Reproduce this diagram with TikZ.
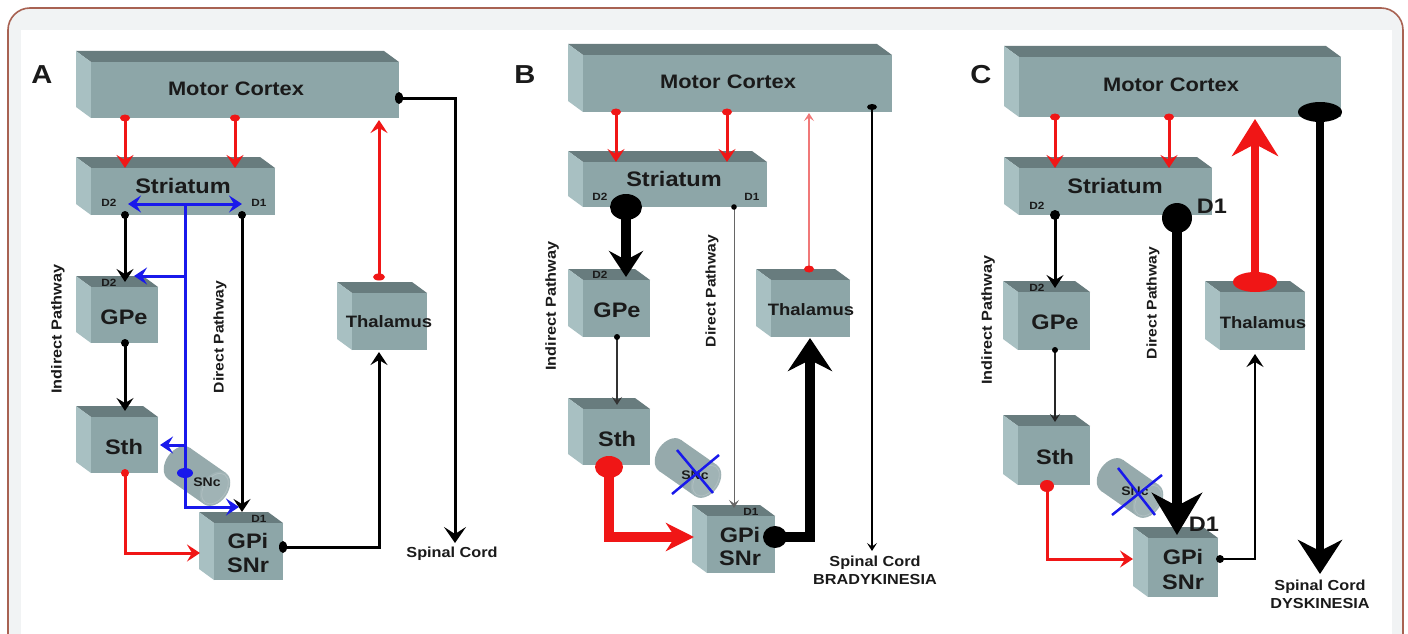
\documentclass[tikz,border=0pt]{standalone}
\usepackage{fontspec}
\newfontfamily\wf{Liberation Sans}[FakeStretch=1.12]
\usetikzlibrary{arrows.meta,calc}
\definecolor{frontc}{RGB}{141,166,168}
\definecolor{topc}{RGB}{104,124,126}
\definecolor{leftc}{RGB}{168,192,194}
\definecolor{bordc}{RGB}{168,98,82}
\definecolor{pagec}{RGB}{241,243,244}
\definecolor{redc}{RGB}{240,22,22}
\definecolor{lredc}{RGB}{240,120,120}
\definecolor{bluec}{RGB}{25,25,235}
\definecolor{txtc}{RGB}{26,26,26}
\definecolor{cylc}{RGB}{150,170,172}
\definecolor{cylend}{RGB}{160,179,181}
\newcommand{\cubebox}[5]{%
  \fill[topc] (#2,#3) -- (#4,#3) -- (#4-15,#3-11) -- (#2-15,#3-11) -- cycle;
  \fill[leftc] (#2,#3) -- (#2,#5) -- (#2-15,#5-11) -- (#2-15,#3-11) -- cycle;
  \fill[frontc] (#2,#3) rectangle (#4,#5);
  \node[inner sep=0pt, minimum width={(#4-#2)*1pt}, minimum height={(#5-#3)*1pt}] (#1) at ({(#2+#4)/2},{(#3+#5)/2}) {};
}
\newcommand{\sncbody}[1]{%
  \begin{scope}[shift={(#1)}, rotate=-35]
    \fill[cylc] (-22,0) ellipse [x radius=13pt, y radius=19pt];
    \fill[cylc] (-22,-19) rectangle (22,19);
    \fill[cylend] (22,0) ellipse [x radius=13pt, y radius=19pt];
    \draw[white!25!cylc, line width=0.8pt] (22,0) ellipse [x radius=11pt, y radius=17pt];
  \end{scope}
}
\begin{document}
\begin{tikzpicture}[x=1pt,y=-1pt,
  lbl/.style={font=\wf\bfseries\fontsize{#1}{#1}\selectfont, inner sep=0pt, text=txtc},
  tipS/.style={-{Stealth[length=13pt,width=17pt,inset=5pt]}},
  tipT/.style={-{Stealth[length=8pt,width=10pt,inset=3.5pt]}},
  redS/.style={draw=redc, line width=3pt, tipS},
  blkS/.style={draw=black, line width=3pt, tipS},
  bluS/.style={draw=bluec, line width=3pt, tipS},
  xline/.style={draw=bluec, line width=2.5pt},
]
\useasboundingbox (0,0) rectangle (1408,634);
\clip (0,0) rectangle (1408,634);
\fill[white] (0,0) rectangle (1408,634);
\draw[bordc, line width=1.6pt, fill=pagec, rounded corners=22pt] (8,680) -- (8,8) -- (1403,8) -- (1403,680);
\fill[white] (21,30) rectangle (1392,680);

%================ PANEL A =================
\node[lbl=26] (labA) at (42,75) {A};
\cubebox{mcA}{91}{62}{399}{118}
\cubebox{stA}{91}{168}{275}{215}
\cubebox{gpeA}{91}{287}{158}{343}
\cubebox{sthA}{91}{417}{158}{473}
\cubebox{gpiA}{214}{523}{283}{580}
\cubebox{thA}{352}{293}{427}{350}
\sncbody{197,476}
\node[lbl=19.5] (tmcA) at (236,89) {Motor Cortex};
\node[lbl=21] (tstA) at (183,186) {Striatum};
\node[lbl=10.5] (d2A) at (109,203) {D2};
\node[lbl=10.5] (d1A) at (259,203) {D1};
\node[lbl=21] (tgpeA) at (124,317) {GPe};
\node[lbl=10.5] (d2gA) at (109,283) {D2};
\node[lbl=21] (tsthA) at (124,447) {Sth};
\node[lbl=21] (tgpiA) at (248,541) {GPi};
\node[lbl=21] (tsnrA) at (248,565) {SNr};
\node[lbl=10.5] (d1gA) at (259,519) {D1};
\node[lbl=16.5] (tthA) at (389,322) {Thalamus};
\node[lbl=12.5] (sncA) at (207,482) {SNc};
\node[lbl=14.5] (spA) at (452,554) {Spinal Cord};
\node[lbl=14.5, rotate=90] (indA) at (58,329) {Indirect Pathway};
\node[lbl=14, rotate=90] (dirA) at (220,337) {Direct Pathway};

\coordinate (a1s) at (125,118); \coordinate (a1e) at (125,168);
\coordinate (a2s) at (235,118); \coordinate (a2e) at (235,168);
\coordinate (aThs) at (379,277); \coordinate (aThe) at (379,120);
\coordinate (aD2s) at (125,215); \coordinate (aD2e) at (125,282);
\coordinate (aD1s) at (242,215); \coordinate (aD1e) at (242,512);
\coordinate (aGs) at (125,343); \coordinate (aGe) at (125,411);
\coordinate (aSs) at (125,473); \coordinate (aSm) at (125,553); \coordinate (aSe) at (200,553);
\coordinate (aPs) at (283,547); \coordinate (aPm) at (379,547); \coordinate (aPe) at (379,352);
\coordinate (aMs) at (399,98); \coordinate (aMm) at (455,98); \coordinate (aMe) at (455,543);
\coordinate (aN) at (185,473); \coordinate (aBt) at (185,204);
\coordinate (aBl) at (128,204); \coordinate (aBr) at (242,204);
\coordinate (aBg) at (185,276); \coordinate (aBge) at (134,276);
\coordinate (aBh) at (185,445); \coordinate (aBhe) at (160,445);
\coordinate (aBd) at (185,507); \coordinate (aBde) at (239,507);

\draw[redS] (a1s) -- (a1e);
\draw[redS] (a2s) -- (a2e);
\draw[redS] (aThs) -- (aThe);
\draw[blkS] (aD2s) -- (aD2e);
\draw[blkS] (aD1s) -- (aD1e);
\draw[blkS] (aGs) -- (aGe);
\draw[redS] (aSs) -- (aSm) -- (aSe);
\draw[blkS] (aPs) -- (aPm) -- (aPe);
\draw[draw=black, line width=3pt, -{Stealth[length=16pt,width=22pt,inset=7pt]}] (aMs) -- (aMm) -- (aMe);
\draw[draw=bluec, line width=3pt] (aN) -- (aBt);
\draw[bluec, line width=3pt, {Stealth[length=13pt,width=17pt,inset=5pt]}-{Stealth[length=13pt,width=17pt,inset=5pt]}] (aBl) -- (aBr);
\draw[bluS] (aBg) -- (aBge);
\draw[bluS] (aBh) -- (aBhe);
\draw[bluS] (aN) -- (aBd) -- (aBde);
\fill[redc] (a1s) ellipse [x radius=5pt, y radius=3.5pt];
\fill[redc] (a2s) ellipse [x radius=5pt, y radius=3.5pt];
\fill[redc] (aThs) ellipse [x radius=6pt, y radius=3.5pt];
\fill[black] (aD2s) circle [radius=4pt];
\fill[black] (aD1s) circle [radius=4pt];
\fill[black] (aGs) circle [radius=4pt];
\fill[redc] (aSs) circle [radius=4pt];
\fill[black] (aPs) ellipse [x radius=4pt, y radius=6pt];
\fill[black] (aMs) ellipse [x radius=4pt, y radius=6pt];
\fill[bluec] (aN) ellipse [x radius=8pt, y radius=5pt];

%================ PANEL B =================
\node[lbl=26] (labB) at (525,75) {B};
\cubebox{mcB}{583}{55}{892}{112}
\cubebox{stB}{583}{162}{767}{207}
\cubebox{gpeB}{583}{280}{650}{337}
\cubebox{sthB}{583}{409}{650}{465}
\cubebox{gpiB}{707}{516}{775}{573}
\cubebox{thB}{771}{280}{850}{337}
\sncbody{688,468}
\node[lbl=19.5] (tmcB) at (728,82) {Motor Cortex};
\node[lbl=21] (tstB) at (674,179) {Striatum};
\node[lbl=10.5] (d2B) at (600,197) {D2};
\node[lbl=10.5] (d1B) at (752,197) {D1};
\node[lbl=21] (tgpeB) at (617,310) {GPe};
\node[lbl=10.5] (d2gB) at (600,275) {D2};
\node[lbl=21] (tsthB) at (617,439) {Sth};
\node[lbl=21] (tgpiB) at (740,535) {GPi};
\node[lbl=21] (tsnrB) at (740,558) {SNr};
\node[lbl=10.5] (d1gB) at (751,512) {D1};
\node[lbl=16.5] (tthB) at (811,310) {Thalamus};
\node[lbl=12.5] (sncB) at (695,475) {SNc};
\node[lbl=14.5] (spB) at (875,563) {Spinal Cord};
\node[lbl=14.5] (brB) at (875,580) {BRADYKINESIA};
\node[lbl=14.5, rotate=90] (indB) at (552,306) {Indirect Pathway};
\node[lbl=14, rotate=90] (dirB) at (712,291) {Direct Pathway};
\draw[xline] (677,450) -- (713,493);
\draw[xline] (719,455) -- (672,494);

\coordinate (b1s) at (616,112); \coordinate (b1e) at (616,162);
\coordinate (b2s) at (727,112); \coordinate (b2e) at (727,162);
\coordinate (bTs) at (809,269); \coordinate (bTe) at (809,113);
\coordinate (bD2s) at (626,207); \coordinate (bD2e) at (626,277);
\coordinate (bD1s) at (734,207); \coordinate (bD1e) at (734,508);
\coordinate (bGs) at (617,337); \coordinate (bGe) at (617,405);
\coordinate (bSs) at (609,467); \coordinate (bSm) at (609,537); \coordinate (bSe) at (694,537);
\coordinate (bPs) at (775,537); \coordinate (bPm) at (810,537); \coordinate (bPe) at (810,338);
\coordinate (bMs) at (872,107); \coordinate (bMe) at (872,551);

\draw[redS] (b1s) -- (b1e);
\draw[redS] (b2s) -- (b2e);
\draw[draw=lredc, line width=1.3pt, tipT] (bTs) -- (bTe);
\draw[draw=black, line width=10pt, -{Stealth[length=26pt,width=34pt,inset=9pt]}] (bD2s) -- (bD2e);
\draw[draw=black!60, line width=0.9pt, tipT] (bD1s) -- (bD1e);
\draw[draw=black!80, line width=1.8pt, tipT] (bGs) -- (bGe);
\draw[draw=redc, line width=10pt, -{Stealth[length=28pt,width=28pt,inset=9pt]}] (bSs) -- (bSm) -- (bSe);
\draw[draw=black, line width=10pt, -{Stealth[length=33pt,width=44pt,inset=11pt]}] (bPs) -- (bPm) -- (bPe);
\draw[draw=black, line width=1.5pt, tipT] (bMs) -- (bMe);
\fill[redc] (b1s) ellipse [x radius=5pt, y radius=3.5pt];
\fill[redc] (b2s) ellipse [x radius=5pt, y radius=3.5pt];
\fill[redc] (bTs) ellipse [x radius=5pt, y radius=3.5pt];
\fill[black] (bD2s) ellipse [x radius=16pt, y radius=13pt];
\fill[black] (bD1s) circle [radius=2.8pt];
\fill[black] (bGs) circle [radius=3pt];
\fill[redc] (bSs) ellipse [x radius=14pt, y radius=11pt];
\fill[black] (bPs) ellipse [x radius=12pt, y radius=11pt];
\fill[black] (bMs) ellipse [x radius=5pt, y radius=3pt];

%================ PANEL C =================
\node[lbl=26] (labC) at (981,75) {C};
\cubebox{mcC}{1019}{57}{1341}{117}
\cubebox{stC}{1019}{168}{1212}{215}
\cubebox{gpeC}{1018}{292}{1090}{350}
\cubebox{sthC}{1018}{426}{1090}{485}
\cubebox{gpiC}{1148}{538}{1218}{597}
\cubebox{thC}{1220}{292}{1305}{350}
\sncbody{1130,488}
\node[lbl=19.5] (tmcC) at (1171,85) {Motor Cortex};
\node[lbl=21] (tstC) at (1115,186) {Striatum};
\node[lbl=10.5] (d2C) at (1037,206) {D2};
\node[lbl=21] (d1C) at (1212,206) {D1};
\node[lbl=21] (tgpeC) at (1055,322) {GPe};
\node[lbl=10.5] (d2gC) at (1037,288) {D2};
\node[lbl=21] (tsthC) at (1055,457) {Sth};
\node[lbl=21] (tgpiC) at (1183,557) {GPi};
\node[lbl=21] (tsnrC) at (1183,582) {SNr};
\node[lbl=16.5] (tthC) at (1263,323) {Thalamus};
\node[lbl=12.5] (sncC) at (1135,491) {SNc};
\node[lbl=14.5] (spC) at (1320,587) {Spinal Cord};
\node[lbl=14.5] (dyC) at (1320,604) {DYSKINESIA};
\node[lbl=14.5, rotate=90] (indC) at (988,320) {Indirect Pathway};
\node[lbl=14, rotate=90] (dirC) at (1153,303) {Direct Pathway};
\draw[xline] (1118,468) -- (1155,515);
\draw[xline] (1162,475) -- (1112,515);

\coordinate (c1s) at (1055,117); \coordinate (c1e) at (1055,168);
\coordinate (c2s) at (1169,117); \coordinate (c2e) at (1169,168);
\coordinate (cD2s) at (1055,215); \coordinate (cD2e) at (1055,288);
\coordinate (cD1s) at (1177,218); \coordinate (cD1e) at (1177,535);
\coordinate (cTs) at (1255,282); \coordinate (cTe) at (1255,119);
\coordinate (cMs) at (1320,112); \coordinate (cMe) at (1320,574);
\coordinate (cGs) at (1055,350); \coordinate (cGe) at (1055,422);
\coordinate (cSs) at (1047,486); \coordinate (cSm) at (1047,559); \coordinate (cSe) at (1133,559);
\coordinate (cPs) at (1220,559); \coordinate (cPm) at (1255,559); \coordinate (cPe) at (1255,354);

\draw[redS] (c1s) -- (c1e);
\draw[redS] (c2s) -- (c2e);
\draw[blkS] (cD2s) -- (cD2e);
\draw[draw=black, line width=10pt, -{Stealth[length=42pt,width=50pt,inset=13pt]}] (cD1s) -- (cD1e);
\node[lbl=21] (d1gC) at (1204,524) {D1};
\draw[draw=redc, line width=8pt, -{Stealth[length=37pt,width=46pt,inset=12pt]}] (cTs) -- (cTe);
\draw[draw=black, line width=8pt, -{Stealth[length=34pt,width=44pt,inset=11pt]}] (cMs) -- (cMe);
\draw[draw=black!85, line width=1.5pt, tipT] (cGs) -- (cGe);
\draw[redS] (cSs) -- (cSm) -- (cSe);
\draw[draw=black, line width=2pt, tipS] (cPs) -- (cPm) -- (cPe);
\fill[redc] (c1s) ellipse [x radius=5pt, y radius=3.5pt];
\fill[redc] (c2s) ellipse [x radius=5pt, y radius=3.5pt];
\fill[black] (cD2s) circle [radius=5pt];
\fill[black] (cD1s) circle [radius=15pt];
\fill[redc] (cTs) ellipse [x radius=22pt, y radius=10pt];
\fill[black] (cMs) ellipse [x radius=22pt, y radius=10pt];
\fill[black] (cGs) circle [radius=3pt];
\fill[redc] (cSs) ellipse [x radius=7pt, y radius=6pt];
\fill[black] (cPs) circle [radius=4pt];
\end{tikzpicture}
\end{document}
